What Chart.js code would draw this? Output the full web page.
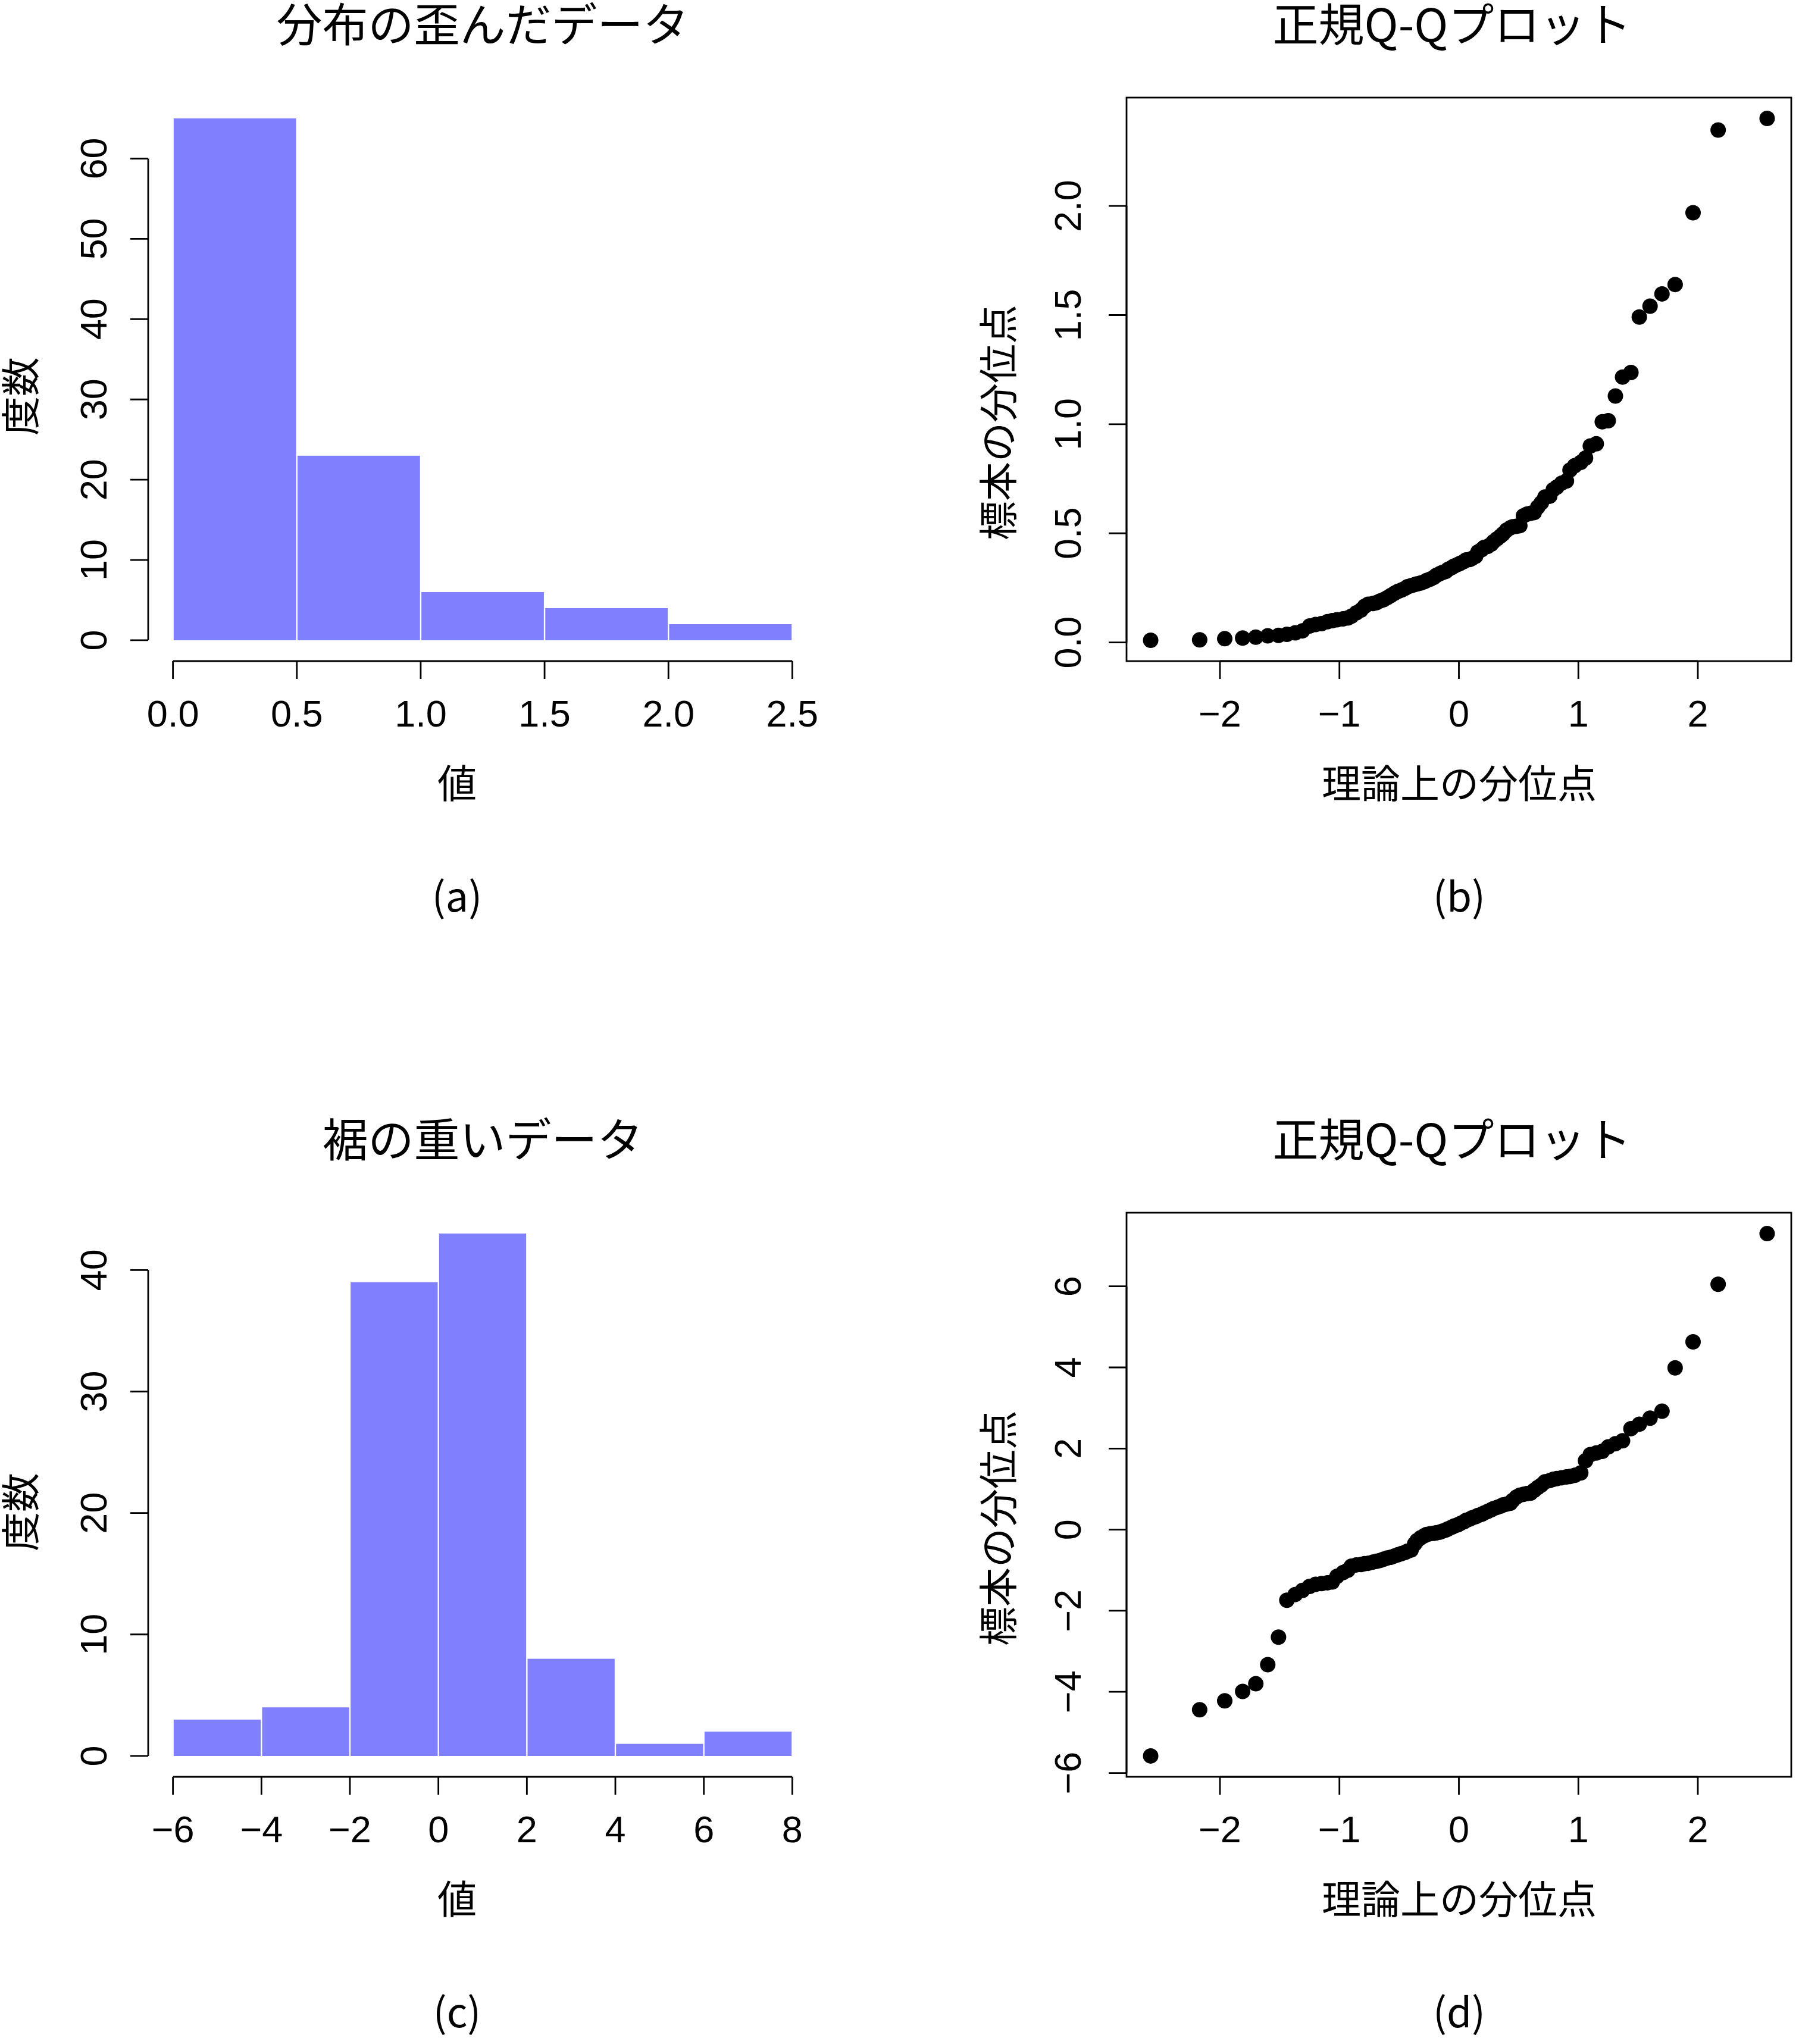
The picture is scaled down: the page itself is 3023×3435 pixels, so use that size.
<!DOCTYPE html>
<html>
<head>
<meta charset="utf-8">
<title>分布の歪んだデータ / 裾の重いデータ</title>
<script src="https://cdn.jsdelivr.net/npm/chart.js"></script>
<style>
    body { margin: 0; background: #fff; }
    #page { position: relative; width: 3023px; height: 3435px; overflow: hidden; background: #fff; }
    .panel { position: absolute; }
    .txt {
        position: absolute;
        white-space: nowrap;
        text-align: center;
        line-height: 1;
        color: #000;
        font-family: "Noto Sans CJK JP", "Noto Sans", sans-serif;
    }
</style>
</head>
<body>
<div id="page">
    <div class="panel" id="boxA"><canvas id="chartA"></canvas></div>
    <div class="panel" id="boxB"><canvas id="chartB"></canvas></div>
    <div class="panel" id="boxC"><canvas id="chartC"></canvas></div>
    <div class="panel" id="boxD"><canvas id="chartD"></canvas></div>
</div>

<script>
// --- data -------------------------------------------------------------
// histogram (a): skewed data
const skewEdges = [0, 0.5, 1, 1.5, 2, 2.5];
const skewCounts = [65, 23, 6, 4, 2];

// histogram (c): heavy tailed data
const heavyEdges = [-6, -4, -2, 0, 2, 4, 6, 8];
const heavyCounts = [3, 4, 39, 43, 8, 1, 2];

// theoretical normal quantiles (n = 100), shared by both Q-Q plots
const theoQ = [
    -2.58, -2.17, -1.96, -1.81, -1.70, -1.60, -1.51, -1.44, -1.37, -1.31,
    -1.25, -1.20, -1.15, -1.10, -1.06, -1.02, -0.97, -0.93, -0.90, -0.86,
    -0.82, -0.79, -0.76, -0.72, -0.69, -0.66, -0.63, -0.60, -0.57, -0.54,
    -0.51, -0.48, -0.45, -0.43, -0.40, -0.37, -0.35, -0.32, -0.29, -0.27,
    -0.24, -0.21, -0.19, -0.16, -0.14, -0.11, -0.09, -0.06, -0.04, -0.01,
    0.01, 0.04, 0.06, 0.09, 0.11, 0.14, 0.16, 0.19, 0.21, 0.24,
    0.27, 0.29, 0.32, 0.35, 0.37, 0.40, 0.43, 0.45, 0.48, 0.51,
    0.54, 0.57, 0.60, 0.63, 0.66, 0.69, 0.72, 0.76, 0.79, 0.82,
    0.86, 0.90, 0.93, 0.97, 1.02, 1.06, 1.10, 1.15, 1.20, 1.25,
    1.31, 1.37, 1.44, 1.51, 1.60, 1.70, 1.81, 1.96, 2.17, 2.58
];

// sorted sample, skewed data (b)
const skewSorted = [
    0.010, 0.012, 0.017, 0.020, 0.024, 0.030, 0.032, 0.037, 0.044, 0.053,
    0.075, 0.082, 0.086, 0.095, 0.100, 0.104, 0.108, 0.112, 0.120, 0.135,
    0.148, 0.165, 0.175, 0.178, 0.182, 0.190, 0.196, 0.205, 0.215, 0.225,
    0.234, 0.240, 0.248, 0.255, 0.260, 0.265, 0.268, 0.272, 0.278, 0.284,
    0.290, 0.298, 0.307, 0.315, 0.320, 0.325, 0.335, 0.343, 0.350, 0.357,
    0.362, 0.370, 0.378, 0.380, 0.385, 0.395, 0.415, 0.425, 0.435, 0.440,
    0.450, 0.462, 0.475, 0.488, 0.498, 0.515, 0.525, 0.530, 0.532, 0.535,
    0.580, 0.588, 0.592, 0.595, 0.620, 0.640, 0.666, 0.670, 0.700, 0.712,
    0.730, 0.740, 0.790, 0.810, 0.825, 0.845, 0.900, 0.910, 1.011, 1.016,
    1.129, 1.216, 1.237, 1.491, 1.541, 1.597, 1.640, 1.969, 2.348, 2.401
];

// sorted sample, heavy tailed data (d)
const heavySorted = [
    -5.58, -4.44, -4.22, -3.99, -3.80, -3.33, -2.65, -1.74, -1.60, -1.50,
    -1.40, -1.35, -1.33, -1.31, -1.29, -1.15, -1.06, -1.00, -0.90, -0.87,
    -0.86, -0.84, -0.83, -0.80, -0.78, -0.76, -0.73, -0.70, -0.68, -0.65,
    -0.62, -0.59, -0.56, -0.53, -0.50, -0.35, -0.27, -0.20, -0.15, -0.12,
    -0.10, -0.09, -0.08, -0.06, -0.04, -0.01, 0.02, 0.06, 0.09, 0.12,
    0.15, 0.19, 0.23, 0.26, 0.29, 0.32, 0.35, 0.38, 0.41, 0.45,
    0.49, 0.52, 0.55, 0.58, 0.61, 0.63, 0.65, 0.72, 0.80, 0.85,
    0.87, 0.89, 0.90, 0.97, 1.04, 1.10, 1.18, 1.21, 1.24, 1.26,
    1.28, 1.30, 1.31, 1.34, 1.40, 1.70, 1.85, 1.89, 1.93, 2.04,
    2.12, 2.19, 2.49, 2.60, 2.75, 2.92, 3.99, 4.63, 6.05, 7.30
];

// tick values and labels
const skewXTicks = [0, 0.5, 1, 1.5, 2, 2.5];
const skewXLabels = ['0.0', '0.5', '1.0', '1.5', '2.0', '2.5'];
const skewYTicks = [0, 10, 20, 30, 40, 50, 60];
const skewYLabels = ['0', '10', '20', '30', '40', '50', '60'];

const qqXTicks = [-2, -1, 0, 1, 2];
const qqXLabels = ['\u22122', '\u22121', '0', '1', '2'];
const qqSkewYTicks = [0, 0.5, 1, 1.5, 2];
const qqSkewYLabels = ['0.0', '0.5', '1.0', '1.5', '2.0'];

const heavyXTicks = [-6, -4, -2, 0, 2, 4, 6, 8];
const heavyXLabels = ['\u22126', '\u22124', '\u22122', '0', '2', '4', '6', '8'];
const heavyYTicks = [0, 10, 20, 30, 40];
const heavyYLabels = ['0', '10', '20', '30', '40'];
const qqHeavyYTicks = [-6, -4, -2, 0, 2, 4, 6];
const qqHeavyYLabels = ['\u22126', '\u22124', '\u22122', '0', '2', '4', '6'];

// --- style / layout ---------------------------------------------------
const BAR_COLOR = '#8080ff';
const TICK_LEN = 30;
const TICK_FONT = 63;
const PAD = { left: 160, top: 30, right: 30, bottom: 160 };

// R style axes: ticks outside, rotated y labels, optional box
const rAxes = {
    id: 'rAxes',
    afterDraw(chart, args, opts) {
        const ctx = chart.ctx;
        const a = chart.chartArea;
        const xs = chart.scales.x.ticks.map(t => chart.scales.x.getPixelForValue(t.value));
        const ys = chart.scales.y.ticks.map(t => chart.scales.y.getPixelForValue(t.value));
        ctx.save();
        ctx.strokeStyle = '#000';
        ctx.fillStyle = '#000';
        ctx.lineWidth = 2.8;
        if (opts.box) {
            ctx.strokeRect(a.left, a.top, a.right - a.left, a.bottom - a.top);
        }
        ctx.beginPath();
        ctx.moveTo(xs[0], a.bottom);
        ctx.lineTo(xs[xs.length - 1], a.bottom);
        xs.forEach(px => { ctx.moveTo(px, a.bottom); ctx.lineTo(px, a.bottom + TICK_LEN); });
        ctx.moveTo(a.left, ys[0]);
        ctx.lineTo(a.left, ys[ys.length - 1]);
        ys.forEach(py => { ctx.moveTo(a.left, py); ctx.lineTo(a.left - TICK_LEN, py); });
        ctx.stroke();

        ctx.font = TICK_FONT + 'px "Liberation Sans", Arial, Helvetica, sans-serif';
        ctx.textAlign = 'center';
        ctx.textBaseline = 'alphabetic';
        const shift = 0.358 * TICK_FONT;
        xs.forEach((px, i) => ctx.fillText(opts.xLabels[i], px, a.bottom + 87 + shift));
        ys.forEach((py, i) => {
            ctx.save();
            ctx.translate(a.left - opts.yGap, py);
            ctx.rotate(-Math.PI / 2);
            ctx.fillText(opts.yLabels[i], 0, shift);
            ctx.restore();
        });
        ctx.restore();
    }
};

function setTicks(values) {
    return scale => { scale.ticks = values.map(v => ({ value: v })); };
}

function placeBox(id, plot, padRight) {
    const box = document.getElementById(id);
    const pr = padRight;
    box.style.left = (plot.left - PAD.left) + 'px';
    box.style.top = (plot.top - PAD.top) + 'px';
    box.style.width = (plot.right - plot.left + PAD.left + pr) + 'px';
    box.style.height = (plot.bottom - plot.top + PAD.top + PAD.bottom) + 'px';
    return { left: PAD.left, top: PAD.top, right: pr, bottom: PAD.bottom };
}

function baseOptions(padding, xr, yr, xTicks, yTicks, axisOpts) {
    return {
        responsive: true,
        maintainAspectRatio: false,
        animation: false,
        devicePixelRatio: 1,
        layout: { padding: padding },
        plugins: {
            legend: { display: false },
            tooltip: { enabled: false },
            rAxes: axisOpts
        },
        scales: {
            x: {
                type: 'linear', display: false, offset: false,
                min: xr[0], max: xr[1], afterBuildTicks: setTicks(xTicks)
            },
            y: {
                type: 'linear', display: false, offset: false,
                min: yr[0], max: yr[1], afterBuildTicks: setTicks(yTicks)
            }
        }
    };
}

function histChart(canvasId, boxId, plot, edges, counts, xr, yr, xTicks, xLabels, yTicks, yLabels) {
    const padding = placeBox(boxId, plot, PAD.right);
    const bars = counts.map((c, i) => ({ x: (edges[i] + edges[i + 1]) / 2, y: c }));
    return new Chart(document.getElementById(canvasId), {
        type: 'bar',
        data: {
            datasets: [{
                data: bars,
                backgroundColor: BAR_COLOR,
                borderColor: '#ffffff',
                borderWidth: { left: 1.5, right: 1.5, top: 0, bottom: 0 },
                borderSkipped: false,
                barPercentage: 1,
                categoryPercentage: 1
            }]
        },
        options: baseOptions(padding, xr, yr, xTicks, yTicks,
            { box: false, xLabels: xLabels, yLabels: yLabels, yGap: 93 }),
        plugins: [rAxes]
    });
}

function qqChart(canvasId, boxId, plot, sample, yr, yTicks, yLabels) {
    const padding = placeBox(boxId, plot, 3023 - plot.right);
    const pts = theoQ.map((q, i) => ({ x: q, y: sample[i] }));
    return new Chart(document.getElementById(canvasId), {
        type: 'scatter',
        data: {
            datasets: [{
                data: pts,
                pointRadius: 13,
                pointBackgroundColor: '#000',
                pointBorderWidth: 0,
                showLine: false
            }]
        },
        options: baseOptions(padding, [-2.782, 2.782], yr, qqXTicks, yTicks,
            { box: true, xLabels: qqXLabels, yLabels: yLabels, yGap: 100 }),
        plugins: [rAxes]
    });
}

// plot regions in page pixels
const plotA = { left: 249, top: 164, right: 1373, bottom: 1111 };
const plotB = { left: 1893, top: 164, right: 3019, bottom: 1111 };
const plotC = { left: 249, top: 2038, right: 1373, bottom: 2986 };
const plotD = { left: 1893, top: 2038, right: 3019, bottom: 2986 };

histChart('chartA', 'boxA', plotA, skewEdges, skewCounts, [-0.1, 2.6], [-2.6, 67.6],
    skewXTicks, skewXLabels, skewYTicks, skewYLabels);
qqChart('chartB', 'boxB', plotB, skewSorted, [-0.0856, 2.4966], qqSkewYTicks, qqSkewYLabels);
histChart('chartC', 'boxC', plotC, heavyEdges, heavyCounts, [-6.56, 8.56], [-1.72, 44.72],
    heavyXTicks, heavyXLabels, heavyYTicks, heavyYLabels);
qqChart('chartD', 'boxD', plotD, heavySorted, [-6.095, 7.815], qqHeavyYTicks, qqHeavyYLabels);

// --- titles, axis titles and captions ---------------------------------
const page = document.getElementById('page');
function putText(text, cx, cy, size, vertical) {
    const d = document.createElement('div');
    d.className = 'txt';
    d.textContent = text;
    d.style.fontSize = size + 'px';
    d.style.width = '1200px';
    d.style.height = size + 'px';
    if (vertical) {
        d.style.left = (cx - 600 - 0.056 * size) + 'px';
        d.style.top = (cy - size / 2) + 'px';
        d.style.transform = 'rotate(-90deg)';
    } else {
        d.style.left = (cx - 600) + 'px';
        d.style.top = (cy - 0.556 * size) + 'px';
    }
    page.appendChild(d);
}

putText('分布の歪んだデータ', 811, 41, 77);
putText('正規Q-Qプロット', 2440, 41, 77);
putText('裾の重いデータ', 811, 1915, 77);
putText('正規Q-Qプロット', 2440, 1915, 77);

putText('値', 768, 1316, 66);
putText('理論上の分位点', 2452, 1316, 66);
putText('値', 768, 3191, 66);
putText('理論上の分位点', 2452, 3191, 66);

putText('度数', 34, 666, 66, true);
putText('標本の分位点', 1677, 710, 66, true);
putText('度数', 34, 2541, 66, true);
putText('標本の分位点', 1677, 2568, 66, true);

putText('(a)', 768, 1507, 68);
putText('(b)', 2452, 1507, 68);
putText('(c)', 768, 3382, 68);
putText('(d)', 2452, 3382, 68);
</script>
</body>
</html>
